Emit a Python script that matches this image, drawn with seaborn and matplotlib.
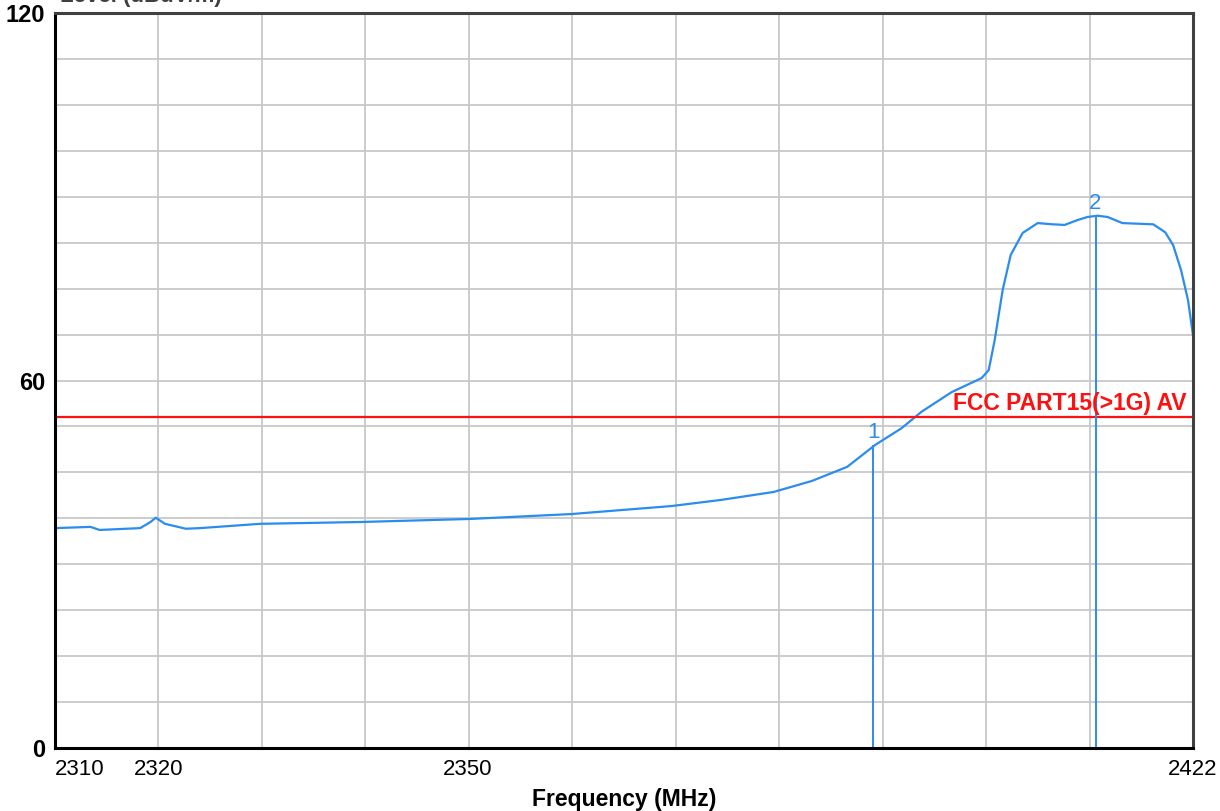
import numpy as np
import pandas as pd
import matplotlib
matplotlib.use("Agg")
import matplotlib.pyplot as plt
import matplotlib.ticker as mticker
import seaborn as sns

# -----------------------------
# Data
# -----------------------------
freq = [2310.0, 2313.4, 2314.3, 2318.2, 2319.2, 2319.7, 2320.6, 2322.6, 2324.0,
        2329.8, 2339.6, 2350.3, 2360.2, 2370.0, 2374.9, 2380.1, 2383.9, 2387.4,
        2390.2, 2392.8, 2394.8, 2397.8, 2400.8, 2401.5, 2402.1, 2402.9, 2403.7,
        2404.9, 2406.4, 2407.9, 2409.1, 2410.4, 2411.4, 2412.4, 2413.4, 2414.9,
        2418.0, 2419.2, 2420.0, 2420.8, 2421.5, 2422.0]
level = [35.9, 36.1, 35.6, 35.9, 36.9, 37.6, 36.6, 35.8, 35.9,
         36.6, 36.9, 37.4, 38.2, 39.5, 40.5, 41.8, 43.6, 45.9,
         49.5, 52.2, 54.9, 58.1, 60.4, 61.7, 66.6, 74.8, 80.5,
         84.1, 85.7, 85.5, 85.4, 86.2, 86.7, 86.9, 86.7, 85.7,
         85.5, 84.2, 82.1, 78.0, 73.1, 67.4]

limit_level = 54
limit_label = "FCC PART15(>1G) AV"

marker_freq = [2390.0, 2412.2]
marker_level = [49.5, 86.9]
marker_names = ["1", "2"]

x_ticks = [2310, 2320, 2350, 2422]
y_ticks = [0, 60, 120]

df = pd.DataFrame({"Frequency": freq, "Level": level})

# -----------------------------
# Style
# -----------------------------
sns.set_style("white")
plt.rcParams["font.family"] = ["Liberation Sans", "DejaVu Sans"]

fig = plt.figure(figsize=(12.2, 8.11), dpi=100)
ax = fig.add_axes([55 / 1220, 1 - 748 / 811, 1138 / 1220, 735 / 811])

blue = "#2b8cf0"

sns.lineplot(data=df, x="Frequency", y="Level", ax=ax, color=blue, linewidth=1.6)

ax.set_xscale("log")
ax.set_xlim(2310, 2422)
ax.set_ylim(0, 120)

# grid: 11 equal log divisions on x, 7.5 dB steps on y
ax.set_xticks(np.geomspace(2310, 2422, 12), minor=True)
ax.set_yticks(np.arange(0, 120.1, 7.5), minor=True)
ax.set_xticks(x_ticks)
ax.xaxis.set_major_formatter(mticker.FixedFormatter([str(t) for t in x_ticks]))
ax.xaxis.set_minor_formatter(mticker.NullFormatter())
ax.set_yticks(y_ticks)
ax.set_yticklabels([str(t) for t in y_ticks])
ax.grid(which="minor", color="#c8c8c8", linewidth=1.3)
ax.grid(which="major", axis="x", visible=False)
ax.grid(which="major", axis="y", color="#c8c8c8", linewidth=1.3)
ax.set_axisbelow(True)

ax.tick_params(which="both", length=0)
ax.tick_params(axis="x", labelsize=16, pad=8, labelcolor="black")
ax.tick_params(axis="y", labelsize=17, pad=7, labelcolor="black")
for lab in ax.get_yticklabels():
    lab.set_fontweight("bold")
xlabs = ax.get_xticklabels()
xlabs[0].set_horizontalalignment("left")

for side in ["left", "bottom"]:
    ax.spines[side].set_color("black")
    ax.spines[side].set_linewidth(2.2)
for side in ["top", "right"]:
    ax.spines[side].set_color("#404040")
    ax.spines[side].set_linewidth(2.2)

# limit line
ax.axhline(limit_level, color="#ff1010", linewidth=1.6)
ax.text(2421.3, limit_level + 0.4, limit_label, color="#ff1010", fontsize=16.5,
        fontweight="bold", ha="right", va="bottom")

# markers
ax.vlines(marker_freq, 0, marker_level, color=blue, linewidth=1.4)
for f, lv, name in zip(marker_freq, marker_level, marker_names):
    ax.text(f, lv + 0.3, name, color=blue, fontsize=16, ha="center", va="bottom")

ax.set_xlabel("Frequency (MHz)", fontsize=16.5, fontweight="bold", labelpad=6,
              color="black")
ax.set_ylabel("")
fig.text(60 / 1220, 1 - 2 / 811, "Level (dBuV/m)", fontsize=16, fontweight="bold",
         color="#404040", ha="left", va="baseline")

fig.savefig("out.png", dpi=100)
